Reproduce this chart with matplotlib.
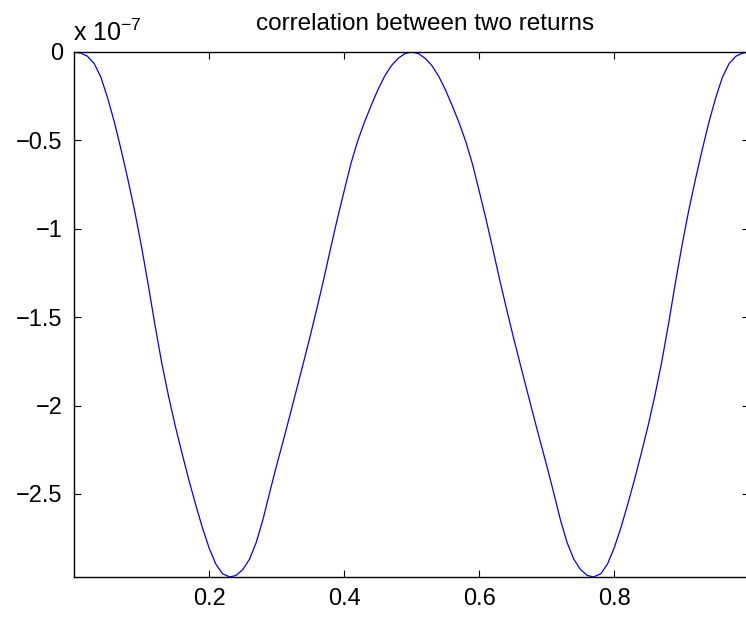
import matplotlib
matplotlib.use("Agg")
import matplotlib.pyplot as plt

# values, y in units of 1e-7
x = [0.00, 0.01, 0.02, 0.03, 0.04, 0.05, 0.06, 0.07, 0.08, 0.09,
     0.10, 0.11, 0.12, 0.13, 0.14, 0.15, 0.16, 0.17, 0.18, 0.19,
     0.20, 0.21, 0.22, 0.231, 0.24, 0.25, 0.26, 0.27, 0.28, 0.29,
     0.30, 0.31, 0.32, 0.33, 0.34, 0.35, 0.36, 0.37, 0.38, 0.39,
     0.40, 0.41, 0.42, 0.43, 0.44, 0.45, 0.46, 0.47, 0.48, 0.49,
     0.50, 0.51, 0.52, 0.53, 0.54, 0.55, 0.56, 0.57, 0.58, 0.59,
     0.60, 0.61, 0.62, 0.63, 0.64, 0.65, 0.66, 0.67, 0.68, 0.69,
     0.70, 0.71, 0.72, 0.73, 0.74, 0.75, 0.76, 0.769, 0.78, 0.79,
     0.80, 0.81, 0.82, 0.83, 0.84, 0.85, 0.86, 0.87, 0.88, 0.89,
     0.90, 0.91, 0.92, 0.93, 0.94, 0.95, 0.96, 0.97, 0.98, 0.99,
     1.00]
corr = [0.000, -0.006, -0.024, -0.065, -0.143, -0.261, -0.398, -0.555, -0.722, -0.900,
        -1.099, -1.316, -1.544, -1.758, -1.945, -2.115, -2.269, -2.418, -2.557, -2.688,
        -2.804, -2.896, -2.952, -2.970, -2.961, -2.928, -2.869, -2.774, -2.643, -2.489,
        -2.340, -2.198, -2.052, -1.904, -1.755, -1.604, -1.446, -1.283, -1.111, -0.944,
        -0.787, -0.633, -0.505, -0.398, -0.303, -0.214, -0.137, -0.077, -0.036, -0.009,
        0.000, -0.009, -0.036, -0.077, -0.137, -0.214, -0.303, -0.398, -0.505, -0.633,
        -0.787, -0.944, -1.111, -1.283, -1.446, -1.604, -1.755, -1.904, -2.052, -2.198,
        -2.340, -2.489, -2.643, -2.774, -2.869, -2.928, -2.961, -2.970, -2.952, -2.896,
        -2.804, -2.688, -2.557, -2.418, -2.269, -2.115, -1.945, -1.758, -1.544, -1.316,
        -1.099, -0.900, -0.722, -0.555, -0.398, -0.261, -0.143, -0.065, -0.024, -0.006,
        0.000]
xticks = [0.2, 0.4, 0.6, 0.8]
yticks = [0, -0.5, -1, -1.5, -2, -2.5]
ytick_labels = ["0", "\u22120.5", "\u22121", "\u22121.5", "\u22122", "\u22122.5"]

plt.rcParams["font.family"] = ["Liberation Sans", "DejaVu Sans"]
fig = plt.figure(figsize=(7.46, 6.20), dpi=100)
ax = fig.add_axes([73.9 / 746, 1 - 577 / 620, 675.5 / 746, 525 / 620])
ax.plot(x, corr, color=(0, 0, 1), lw=0.9)
ax.set_xlim(0, 1)
ax.set_ylim(min(corr), 0)
ax.set_xticks(xticks)
ax.set_xticklabels([str(t) for t in xticks])
ax.set_yticks(yticks)
ax.set_yticklabels(ytick_labels)
ax.tick_params(direction="in", length=5, width=0.8, labelsize=17, top=True, right=True,
               pad=8)
for s in ax.spines.values():
    s.set_linewidth(1.0)

fig.text(425 / 746, 1 - 24 / 620, "correlation between two returns", ha="center",
         va="center", fontsize=17.5)
fig.text(73 / 746, 1 - 41 / 620, "x 10$^{\\mathregular{\u22127}}$", ha="left",
         va="baseline", fontsize=18)
fig.savefig("out.png", dpi=100)
